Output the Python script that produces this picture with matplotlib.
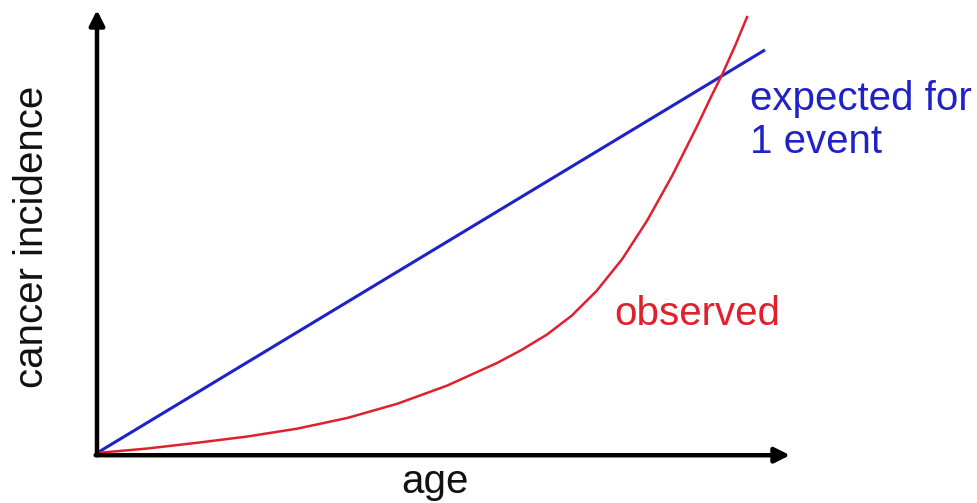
import numpy as np
import matplotlib.pyplot as plt

plt.rcParams['font.family'] = ['Liberation Sans', 'DejaVu Sans']

# schematic values, age and incidence on 0-100 scales
expected_age = [0, 96.4]
expected_inc = [0, 91.0]

observed_age = [0, 7.2, 14.4, 21.6, 28.9, 36.1, 43.3, 50.5, 57.7, 61.3,
                64.9, 68.5, 72.1, 75.8, 79.4, 83.0, 86.6, 88.7, 90.2, 92.1,
                93.8]
observed_inc = [0, 1.0, 2.3, 3.7, 5.5, 7.9, 11.1, 15.2, 20.3, 23.3,
                26.7, 31.0, 36.6, 43.8, 52.5, 62.6, 73.8, 80.7, 85.4, 92.0,
                98.4]

blue = '#1f22c8'
red = '#e0202c'

fig = plt.figure(figsize=(9.77, 5.03), dpi=100)
ax = fig.add_axes([97 / 977, 50 / 503, 693 / 977, 443 / 503])
ax.set_xlim(0, 100)
ax.set_ylim(0, 100)
ax.axis('off')

ax.plot(expected_age, expected_inc, color=blue, lw=2.2, solid_capstyle='butt')
ax.plot(observed_age, observed_inc, color=red, lw=1.8,
        solid_joinstyle='round')

# axis arrows
arrow = dict(arrowstyle='-|>,head_length=0.9,head_width=0.45', lw=3.2,
             color='black', shrinkA=0, shrinkB=0)
ax.annotate('', xy=(0, 100), xytext=(0, -0.5), arrowprops=arrow,
            annotation_clip=False)
ax.annotate('', xy=(100, -0.5), xytext=(-0.2, -0.5), arrowprops=arrow,
            annotation_clip=False)

ax.text(48.8, -6.6, 'age', fontsize=29, ha='center', va='center',
        color='#111111')
fig.text(32 / 977, 1 - 237 / 503, 'cancer incidence', fontsize=29,
         rotation=90, ha='center', va='center', color='#111111')
ax.text(94.2, 75, 'expected for\n1 event', fontsize=29, color=blue,
        ha='left', va='center', linespacing=1.15)
ax.text(74.7, 31.4, 'observed', fontsize=29, color=red, ha='left',
        va='center')

fig.savefig('out.png', dpi=100)
